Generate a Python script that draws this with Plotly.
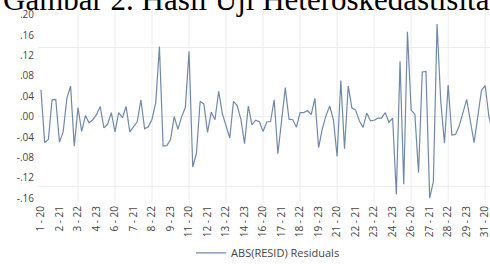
import plotly.graph_objects as go

# ---- data -------------------------------------------------------------
firms = list(range(1, 32))
years = ["20", "21", "22", "23"]

residuals = [
    0.053, -0.051, -0.045, 0.033, 0.034, -0.050, -0.030, 0.036, 0.060, -0.058,
    0.018, -0.029, 0.002, -0.012, -0.006, 0.004, 0.020, -0.022, -0.015, 0.008,
    -0.030, 0.008, -0.002, 0.020, -0.030, -0.020, -0.010, 0.033, -0.024, -0.020,
    -0.005, 0.027, 0.138, -0.058, -0.057, -0.045, 0.000, -0.025, 0.000, 0.018,
    0.128, -0.099, -0.072, 0.030, 0.025, -0.031, 0.009, -0.006, 0.050, 0.006,
    -0.020, -0.042, 0.030, 0.022, -0.005, -0.053, 0.021, -0.016, -0.007, -0.010,
    -0.029, -0.010, -0.010, 0.033, -0.073, -0.010, 0.057, -0.005, -0.006, -0.021,
    0.008, 0.008, 0.012, 0.004, 0.036, -0.061, -0.024, 0.002, 0.021, -0.006,
    -0.078, 0.071, -0.063, 0.060, 0.017, 0.013, -0.008, -0.021, 0.007, -0.008,
    -0.007, -0.003, -0.003, 0.008, -0.011, -0.003, -0.153, 0.109, -0.133, 0.167,
    0.013, 0.005, -0.110, 0.088, 0.089, -0.160, -0.128, 0.182, 0.030, -0.052,
    0.062, -0.036, -0.035, -0.018, 0.007, 0.034, -0.009, -0.051, 0.000, 0.052,
    0.061, 0.000, -0.030,
]

obs_labels = [f"{f} - {y}" for f in firms for y in years][:len(residuals)]
obs_index = list(range(len(residuals)))
tick_step = 5

y_tickvals = [0.20, 0.16, 0.12, 0.08, 0.04, 0.00, -0.04, -0.08, -0.12, -0.16]
y_ticktext = [".20", ".16", ".12", ".08", ".04", ".00", "-.04", "-.08", "-.12", "-.16"]

x_grid = list(range(10, 121, 10))
y_grid = [0.136, 0.0, -0.137]

series_name = "ABS(RESID) Residuals"
title_text = "Gambar 2. Hasil Uji Heteroskedastisitas"

# ---- figure -----------------------------------------------------------
fig = go.Figure()
fig.add_trace(go.Scatter(
    x=obs_index, y=residuals, mode="lines", name=series_name,
    line=dict(color="#7189a8", width=1.2),
))

shapes = []
for gx in x_grid:
    shapes.append(dict(type="line", xref="x", yref="paper", x0=gx, x1=gx, y0=0, y1=1,
                       line=dict(color="#ececec", width=1), layer="below"))
for gy in y_grid:
    shapes.append(dict(type="line", xref="paper", yref="y", x0=0, x1=1, y0=gy, y1=gy,
                       line=dict(color="#ececec", width=1), layer="below"))

fig.update_layout(
    width=490, height=264,
    margin=dict(l=38, r=0, t=10, b=61),
    paper_bgcolor="white", plot_bgcolor="white",
    font=dict(family="Open Sans", color="#444444", size=10),
    shapes=shapes,
    showlegend=True,
    legend=dict(
        xref="container", yref="container",
        x=0.39, y=0.042, xanchor="left", yanchor="middle",
        orientation="h", font=dict(size=11, color="#444444"),
        bgcolor="rgba(0,0,0,0)",
    ),
    xaxis=dict(
        range=[-0.8, 121.3], showgrid=False, zeroline=False, showline=False,
        tickmode="array", tickvals=obs_index[::tick_step], ticktext=obs_labels[::tick_step],
        tickangle=-90, ticks="", tickfont=dict(size=10, color="#444444"),
        ticklabeloverflow="allow",
    ),
    yaxis=dict(
        range=[-0.1698, 0.2098], showgrid=False, zeroline=False, showline=False,
        tickmode="array", tickvals=y_tickvals, ticktext=y_ticktext,
        ticks="", ticklabelstandoff=3, tickfont=dict(size=10, color="#444444"),
    ),
    annotations=[dict(
        text=title_text, xref="paper", yref="paper", x=-0.082, y=0.954,
        xanchor="left", yanchor="bottom", showarrow=False,
        font=dict(family="Liberation Serif", size=31, color="black"),
    )],
)

fig.write_html(
    "out.html",
    config={"displayModeBar": False},
    post_script="document.body.style.margin='0px';",
)
